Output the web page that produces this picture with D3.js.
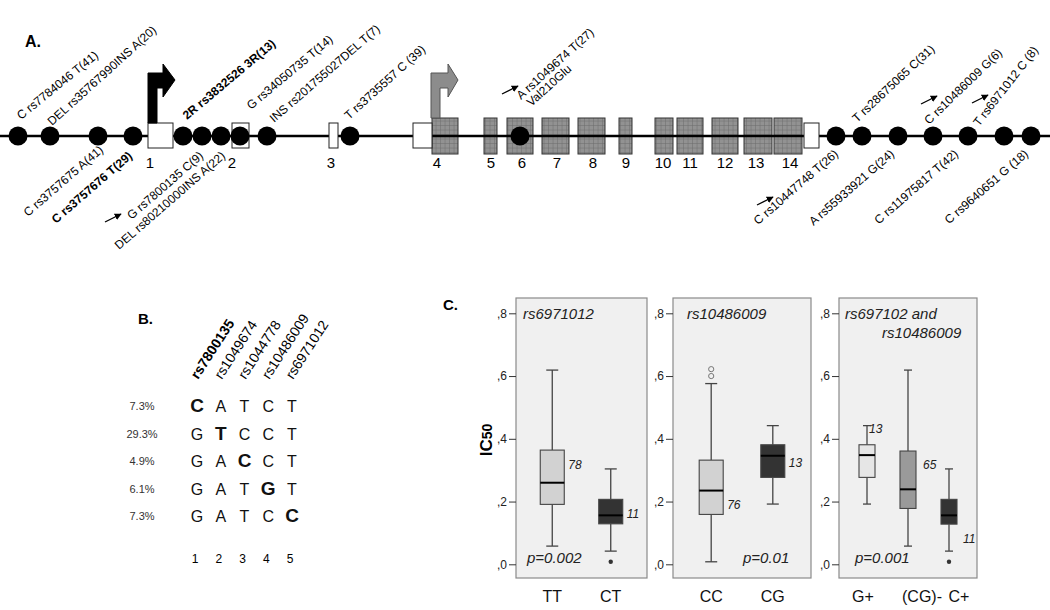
<!DOCTYPE html>
<html><head><meta charset="utf-8">
<script src="https://cdn.jsdelivr.net/npm/d3@7"></script>
<style>body{margin:0;background:#fff} svg{display:block;font-family:Arial,"Liberation Sans",sans-serif}</style>
</head><body><svg id="c" width="1050" height="610"></svg>
<script>
// ---------- Panel A data (positions along the gene schematic, arbitrary units) ----------
const exonNumbers = ["1","2","3","4","5","6","7","8","9","10","11","12","13","14"];
const exonLabelAt = [150,232,331,437,491,522,557,593,626,663,690,725,756,790];
const utrStart = [148,232,329,413,804];
const utrEnd   = [173,249,338,432,819];
const cdsStart = [432,484,507,542,578,619,655,677,712,744,774];
const cdsEnd   = [458,497,533,569,605,632,673,703,738,772,802];
const promoterAt = [148,431];
const snpPositions = [18,50,98,133,183,202,221,240,267,350,520,836,862,898,933,968,1004,1031];
const upperLabels = ["C rs7784046 T(41)","DEL rs35767990INS A(20)","2R rs3832526 3R(13)","G rs34050735 T(14)","INS rs201755027DEL T(7)","T rs3735557 C (39)","A rs1049674 T(27)","T rs28675065 C(31)","C rs10486009 G(6)","T rs6971012 C (8)"];
const upperLabelAt = [21,52,187,251,274,349,521,857,929,979];
const upperLabelLift = [3,-3,3,13,0,3,23,0,-2,-4];
const upperLabelTilt = [39,42,40,40,41,42,42,43,44,52];
const upperBold = ["2R rs3832526 3R(13)"];
const secondLine = {"A rs1049674 T(27)":"Val210Glu"};
const lowerLabels = ["C rs3757675 A(41)","C rs3757676 T(29)","G rs7800135 C(9)","DEL rs80210000INS A(22)","C rs10447748 T(26)","A rs55933921 G(24)","C rs11975817 T(42)","C rs9640651 G (18)"];
const lowerLabelAt = [104,133,204,226,839,895,959,1029];
const lowerLabelDrop = [-4,2,2,2,0,0,0,0];
const lowerBold = ["C rs3757676 T(29)"];
const arrowAt = [105,502,757,921,972];
const arrowY  = [222,94,205,104,103];

// ---------- Panel B data ----------
const haploFreq = ["7.3%","29.3%","4.9%","6.1%","7.3%"];
const haplotypes = ["CATCT","GTCCT","GACCT","GATGT","GATCC"];
const haploSnps = ["rs7800135","rs1049674","rs1044778","rs10486009","rs6971012"];
const haploIds = ["1","2","3","4","5"];

// ---------- Panel C data: [low whisker, Q1, median, Q3, high whisker] ----------
const yTicks = [0,0.2,0.4,0.6,0.8];
const p1Groups = ["TT","CT"];
const p1Box = [[0.058,0.191,0.260,0.364,0.619],[0.042,0.129,0.156,0.207,0.304]];
const p1N = [78,11];
const p1NAt = [0.304,0.148];
const p1Out = [[],[0.008]];
const p2Groups = ["CC","CG"];
const p2Box = [[0.008,0.159,0.235,0.332,0.576],[0.192,0.277,0.346,0.381,0.442]];
const p2N = [76,13];
const p2NAt = [0.176,0.310];
const p2Out = [[0.600,0.622],[]];
const p3Groups = ["G+","(CG)-","C+"];
const p3Box = [[0.192,0.277,0.348,0.381,0.442],[0.058,0.178,0.239,0.361,0.619],[0.042,0.128,0.156,0.207,0.304]];
const p3N = [13,65,11];
const p3NAt = [0.419,0.304,0.068];
const p3Out = [[],[],[0.008]];

// ================= drawing =================
const svg = d3.select("#c");
svg.append("rect").attr("width",1050).attr("height",610).attr("fill","#fff");
const defs = svg.append("defs");
const pat = defs.append("pattern").attr("id","grid").attr("width",4.5).attr("height",4.5).attr("patternUnits","userSpaceOnUse");
pat.append("rect").attr("width",4.5).attr("height",4.5).attr("fill","#929292");
pat.append("path").attr("d","M4.5 0V4.5M0 4.5H4.5").attr("stroke","#6a6a6a").attr("stroke-width",0.9);

// ---------- Panel A ----------
const xG = d3.scaleLinear().domain([0,1050]).range([0,1050]);
const lineY = 136;
const A = svg.append("g");
A.append("text").attr("x",25).attr("y",47).attr("font-size",16).attr("font-weight","bold").text("A.");

A.selectAll(".cds").data(d3.zip(cdsStart,cdsEnd)).join("rect")
  .attr("x",d=>xG(d[0])).attr("width",d=>xG(d[1])-xG(d[0]))
  .attr("y",lineY-18).attr("height",36)
  .attr("fill","url(#grid)").attr("stroke","#333").attr("stroke-width",1);
A.append("line").attr("x1",xG(0)).attr("x2",xG(1050)).attr("y1",lineY).attr("y2",lineY)
  .attr("stroke","#000").attr("stroke-width",2.6);
A.selectAll(".utr").data(d3.zip(utrStart,utrEnd)).join("rect")
  .attr("x",d=>xG(d[0])).attr("width",d=>xG(d[1])-xG(d[0]))
  .attr("y",lineY-13).attr("height",25)
  .attr("fill","#fff").attr("stroke","#222").attr("stroke-width",1);

A.selectAll(".exn").data(exonNumbers).join("text")
  .attr("x",(d,i)=>xG(exonLabelAt[i])).attr("y",168).attr("text-anchor","middle")
  .attr("font-size",15).text(d=>d);

// promoter arrows
promoterAt.forEach((p,i)=>{
  const x = xG(p), base = i===0 ? lineY-13 : lineY-18;
  const headBase = i===0 ? 15 : 17;
  const d = `M${x},${base}V73H${x+headBase}V64L${x+27},80L${x+headBase},97V88H${x+9}V${base}Z`;
  A.append("path").attr("d",d)
    .attr("fill", i===0 ? "#000" : "#8c8c8c")
    .attr("stroke", i===0 ? "#000" : "#555").attr("stroke-width",1);
});

A.selectAll(".snp").data(snpPositions).join("circle")
  .attr("cx",d=>xG(d)).attr("cy",lineY).attr("r",9.5).attr("fill","#000");

upperLabels.forEach((t,i)=>{
  const tx = A.append("text")
    .attr("transform",`translate(${xG(upperLabelAt[i])},${123-upperLabelLift[i]}) rotate(${-upperLabelTilt[i]})`)
    .attr("font-size",12).attr("font-weight", upperBold.includes(t)?"bold":"normal");
  tx.append("tspan").attr("x",0).attr("y",0).text(t);
  if (secondLine[t]) tx.append("tspan").attr("x",3).attr("y",12).text(secondLine[t]);
});
lowerLabels.forEach((t,i)=>{
  A.append("text")
    .attr("transform",`translate(${xG(lowerLabelAt[i])},${155+lowerLabelDrop[i]}) rotate(-41)`)
    .attr("text-anchor","end").attr("font-size",12)
    .attr("font-weight", lowerBold.includes(t)?"bold":"normal").text(t);
});
defs.append("marker").attr("id","ah").attr("viewBox","0 0 10 10").attr("refX",9).attr("refY",5)
  .attr("markerWidth",7).attr("markerHeight",7).attr("markerUnits","userSpaceOnUse").attr("orient","auto")
  .append("path").attr("d","M0,0L10,5L0,10Z").attr("fill","#000");
arrowAt.forEach((a,i)=>{
  A.append("line").attr("x1",xG(a)).attr("y1",arrowY[i]).attr("x2",xG(a)+16).attr("y2",arrowY[i]-8)
    .attr("stroke","#000").attr("stroke-width",1.3).attr("marker-end","url(#ah)");
});

// ---------- Panel B ----------
const B = svg.append("g");
B.append("text").attr("x",138).attr("y",324).attr("font-size",15).attr("font-weight","bold").text("B.");
const colX = d3.scalePoint().domain(d3.range(5)).range([197,292]);
const rowY = d3.scalePoint().domain(d3.range(5)).range([412,522]);
haploSnps.forEach((s,i)=>{
  B.append("text").attr("transform",`translate(${colX(i)+1},${380}) rotate(-57)`)
    .attr("font-size",14).attr("font-weight", i===0?"bold":"normal").text(s);
});
haplotypes.forEach((h,r)=>{
  B.append("text").attr("x",142).attr("y",rowY(r)-2).attr("text-anchor","middle")
    .attr("font-size",11).attr("fill","#333").text(haploFreq[r]);
  h.split("").forEach((ch,c)=>{
    B.append("text").attr("x",colX(c)).attr("y",rowY(r)).attr("text-anchor","middle")
      .attr("font-size", r===c?19:16).attr("font-weight", r===c?"bold":"normal").attr("fill","#111").text(ch);
  });
});
B.selectAll(".hid").data(haploIds).join("text")
  .attr("x",(d,i)=>colX(i)-2).attr("y",563).attr("text-anchor","middle").attr("font-size",12).text(d=>d);

// ---------- Panel C ----------
const C = svg.append("g");
C.append("text").attr("x",443).attr("y",310).attr("font-size",15).attr("font-weight","bold").text("C.");
const yC = d3.scaleLinear().domain([0,0.8]).range([564.3,313.3]);
const ic = C.append("text").attr("transform","translate(492,440) rotate(-90)").attr("text-anchor","middle")
  .attr("font-weight","bold");
ic.append("tspan").attr("font-size",17).text("IC");
ic.append("tspan").attr("font-size",14).text("50");

function panel(left,right,groups,box,ns,nAt,outs,fills,boxW,pad,titles,pX,pText,labDx){
  const g = C.append("g");
  g.append("rect").attr("x",left).attr("y",298).attr("width",right-left).attr("height",280)
    .attr("fill","#f0f0f0").attr("stroke","#8a8a8a").attr("stroke-width",1.2);
  const ax = g.append("g").attr("transform",`translate(${left},0)`)
    .call(d3.axisLeft(yC).tickValues(yTicks).tickSize(7).tickPadding(2).tickFormat(d=>","+Math.round(d*10)));
  ax.select(".domain").remove();
  ax.selectAll("line").attr("stroke","#333");
  ax.selectAll("text").attr("font-size",12).attr("fill","#222").attr("font-family","Arial,'Liberation Sans',sans-serif");
  const xs = d3.scalePoint().domain(groups).range([left,right]).padding(pad);
  groups.forEach((grp,i)=>{
    const [lo,q1,md,q3,hi] = box[i];
    const cx = xs(grp);
    const ws = "#444";
    g.append("line").attr("x1",cx).attr("x2",cx).attr("y1",yC(hi)).attr("y2",yC(q3)).attr("stroke",ws).attr("stroke-width",1.3);
    g.append("line").attr("x1",cx).attr("x2",cx).attr("y1",yC(q1)).attr("y2",yC(lo)).attr("stroke",ws).attr("stroke-width",1.3);
    [hi,lo].forEach(v=>g.append("line").attr("x1",cx-boxW/4).attr("x2",cx+boxW/4).attr("y1",yC(v)).attr("y2",yC(v)).attr("stroke",ws).attr("stroke-width",1.3));
    g.append("rect").attr("x",cx-boxW/2).attr("width",boxW).attr("y",yC(q3)).attr("height",yC(q1)-yC(q3))
      .attr("fill",fills[i]).attr("stroke","#444").attr("stroke-width",1.1);
    g.append("line").attr("x1",cx-boxW/2).attr("x2",cx+boxW/2).attr("y1",yC(md)).attr("y2",yC(md)).attr("stroke","#000").attr("stroke-width",2);
    outs[i].forEach(v=>{
      const open = v>hi;
      g.append("circle").attr("cx",cx).attr("cy",yC(v)).attr("r",open?2.6:2.2)
        .attr("fill",open?"none":"#333").attr("stroke",open?"#777":"none").attr("stroke-width",1);
    });
    g.append("text").attr("x",cx+boxW/2+4+(labDx?labDx.n[i]:0)).attr("y",yC(nAt[i]))
      .attr("font-size",12).attr("font-style","italic").attr("fill","#222").text(ns[i]);
    g.append("text").attr("x",cx+(labDx?labDx.x[i]:0)).attr("y",602).attr("text-anchor","middle")
      .attr("font-size",16).attr("fill","#111").text(grp);
  });
  titles.forEach(t=>g.append("text").attr("x",left+t[1]).attr("y",t[2]).attr("font-size",15).attr("font-style","italic").attr("fill","#222").text(t[0]));
  g.append("text").attr("x",left+pX).attr("y",563).attr("font-size",15).attr("font-style","italic").attr("fill","#222").text(pText);
}
panel(516,647,p1Groups,p1Box,p1N,p1NAt,p1Out,["#d2d2d2","#333333"],24,0.62,[["rs6971012",7,319]],11,"p=0.002",null);
panel(673,811,p2Groups,p2Box,p2N,p2NAt,p2Out,["#d2d2d2","#333333"],24,0.62,[["rs10486009",14,319]],70,"p=0.01",null);
panel(839,977,p3Groups,p3Box,p3N,p3NAt,p3Out,["#e6e6e6","#9a9a9a","#333333"],16,0.683,
  [["rs697102 and",6,319],["rs10486009",43,338]],16,"p=0.001",{n:[-10,3,2],x:[-4,14,10]});
</script></body></html>
